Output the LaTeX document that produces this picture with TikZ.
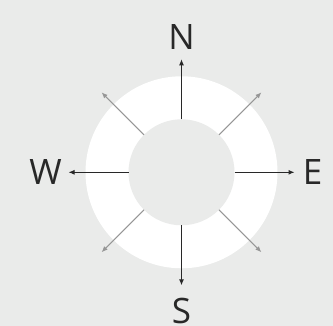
\documentclass[tikz,border=0pt]{standalone}
\usepackage{fontspec}
\setmainfont{Open Sans}
\usetikzlibrary{arrows.meta,calc}
\definecolor{bg}{RGB}{234,235,234}
\definecolor{ink}{RGB}{40,40,40}
\definecolor{diag}{RGB}{150,150,150}
\tikzset{
  mainarr/.style={draw=ink,line width=1pt,-{Latex[length=6pt,width=5pt]}},
  diagarr/.style={draw=diag,line width=1pt,-{Latex[length=6pt,width=5pt]}},
  dirlabel/.style={text=ink,font=\fontsize{35}{35}\selectfont,inner sep=0pt,anchor=center}
}
\begin{document}
\begin{tikzpicture}[x=1pt,y=1pt]
\fill[bg] (0,0) rectangle (333,326);
\useasboundingbox (0,0) rectangle (333,326);
\coordinate (c) at (181.5,153.7);
\fill[white] (c) circle (96);
\fill[bg] (c) circle (53);
\foreach \a/\n in {90/n,270/s,180/w,0/e,45/ne,135/nw,225/sw,315/se}{
  \coordinate (\n1) at ($(c)+(\a:53)$);
  \coordinate (\n2) at ($(c)+(\a:113)$);
}
\draw[mainarr] (n1) -- (n2);
\draw[mainarr] (s1) -- (s2);
\draw[mainarr] (w1) -- (w2);
\draw[mainarr] (e1) -- (e2);
\draw[diagarr] (ne1) -- (ne2);
\draw[diagarr] (nw1) -- (nw2);
\draw[diagarr] (sw1) -- (sw2);
\draw[diagarr] (se1) -- (se2);
\node[dirlabel] (N) at ($(c)+(90:135.5)$) {N};
\node[dirlabel] (S) at ($(c)+(270:139)$) {S};
\node[dirlabel] (W) at ($(c)+(180:136)$) {W};
\node[dirlabel] (E) at ($(c)+(0:131)$) {E};
\end{tikzpicture}
\end{document}
